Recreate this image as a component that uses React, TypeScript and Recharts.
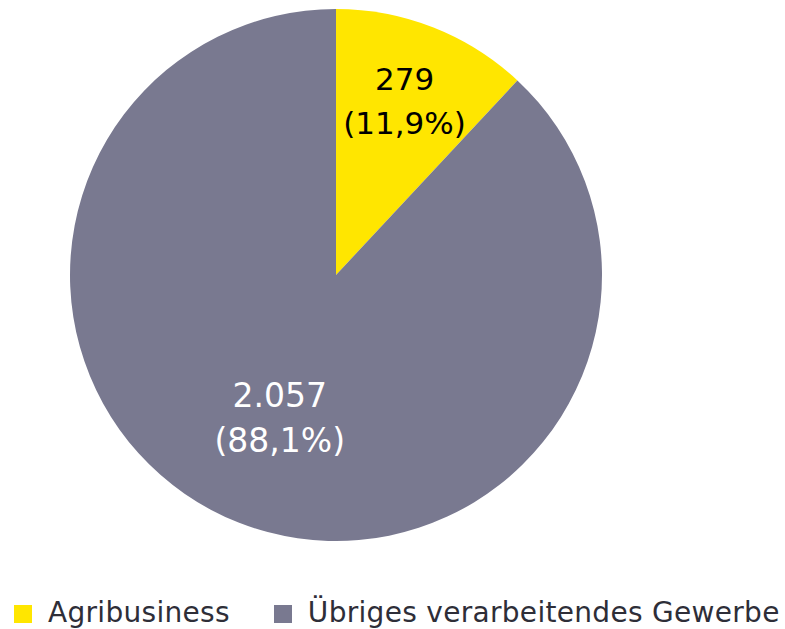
import { Cell, Legend, Pie, PieChart } from 'recharts';

const categories = ['Agribusiness', 'Übriges verarbeitendes Gewerbe'];
const values = [279, 2057];
const valueLabels = ['279', '2.057'];
const percentLabels = ['(11,9%)', '(88,1%)'];

const COLORS = ['#ffe600', '#797990'];
const LABEL_COLORS = ['#000000', '#ffffff'];
const LABEL_SIZES = [31, 33];
const LABEL_RADIUS = [0.703, 0.577];

const data = categories.map((name, i) => ({ name, value: values[i] }));

const RAD = Math.PI / 180;

function renderLabel(props: any) {
  const { cx, cy, midAngle, outerRadius, index } = props;
  const r = outerRadius * LABEL_RADIUS[index];
  const x = cx + r * Math.cos(-midAngle * RAD);
  const y = cy + r * Math.sin(-midAngle * RAD);
  const fs = LABEL_SIZES[index];
  return (
    <text
      x={x}
      y={y}
      textAnchor="middle"
      fill={LABEL_COLORS[index]}
      fontFamily="'DejaVu Sans', sans-serif"
      fontSize={fs}
    >
      <tspan x={x} y={y - 0.34 * fs}>
        {valueLabels[index]}
      </tspan>
      <tspan x={x} y={y + 1.05 * fs}>
        {percentLabels[index]}
      </tspan>
    </text>
  );
}

function renderLegend() {
  return (
    <div
      style={{
        display: 'flex',
        fontFamily: "'DejaVu Sans', sans-serif",
        fontSize: 28,
        letterSpacing: 0.3,
        color: '#2e2e38',
        whiteSpace: 'nowrap',
      }}
    >
      {categories.map((name, i) => (
        <div
          key={name}
          style={{ display: 'flex', alignItems: 'center', marginRight: i === 0 ? 44 : 0 }}
        >
          <span
            style={{
              display: 'inline-block',
              width: 18,
              height: 18,
              background: COLORS[i],
              marginRight: 16,
              marginTop: 3,
            }}
          />
          <span>{name}</span>
        </div>
      ))}
    </div>
  );
}

export default function App() {
  return (
    <div style={{ position: 'absolute', left: 0, top: 0, background: '#fff' }}>
      <PieChart width={785} height={629} margin={{ top: 0, right: 0, bottom: 0, left: 0 }}>
        <Pie
          data={data}
          dataKey="value"
          nameKey="name"
          cx={336}
          cy={275}
          outerRadius={266}
          startAngle={90}
          endAngle={-270}
          stroke="none"
          labelLine={false}
          label={renderLabel}
          isAnimationActive={false}
        >
          {data.map((d, i) => (
            <Cell key={d.name} fill={COLORS[i]} />
          ))}
        </Pie>
        <Legend
          content={renderLegend}
          wrapperStyle={{ left: 14, top: 596, width: 771, bottom: 'auto' }}
        />
      </PieChart>
    </div>
  );
}
